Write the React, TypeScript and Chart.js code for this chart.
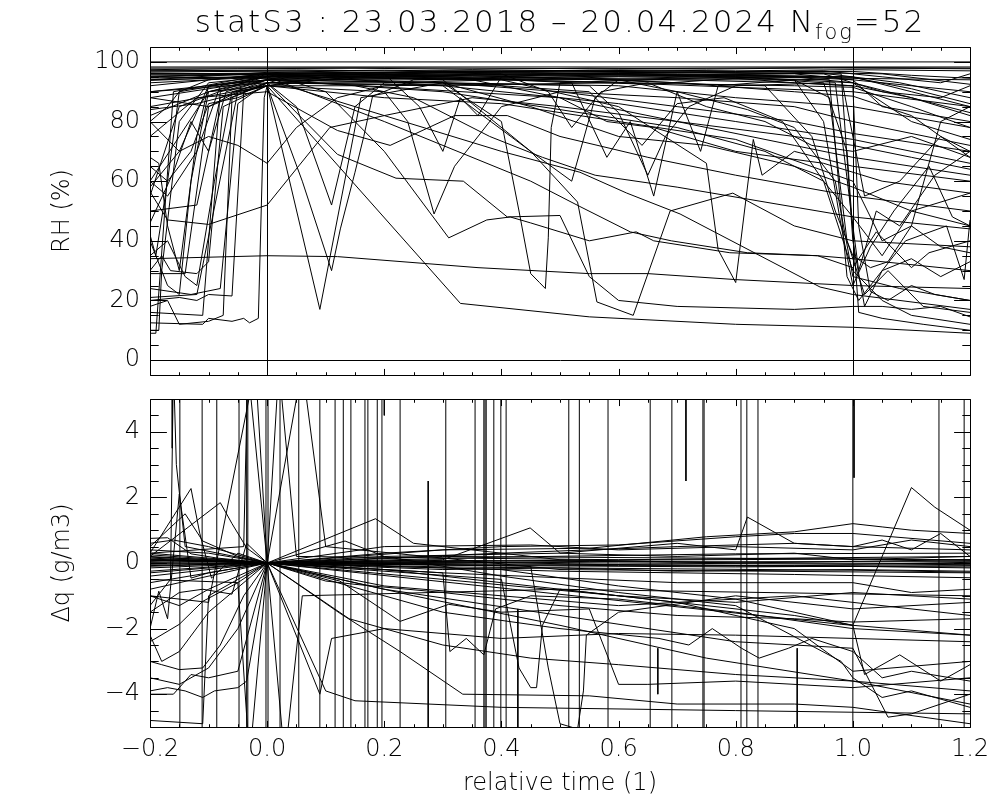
import React, { useEffect, useRef } from 'react';
import { Chart, registerables } from 'chart.js';

Chart.register(...registerables);

// ---------- axis / text settings ----------
const titleMain = 'statS3 : 23.03.2018 – 20.04.2024 N';
const titleSub = 'fog';
const titleEnd = '=52';
const xAxisTitle = 'relative time (1)';
const rhAxisTitle = 'RH (%)';
const dqAxisTitle = 'Δq (g/m3)';

const xRange = [-0.2, 1.2];
const rhRange = [-5, 105];
const dqRange = [-5, 5];
const xTickValues = [-0.2, 0.0, 0.2, 0.4, 0.6, 0.8, 1.0, 1.2];
const rhTickValues = [0, 20, 40, 60, 80, 100];
const dqTickValues = [-4, -2, 0, 2, 4];
const xMinorStep = 0.05;
const rhMinorStep = 5;
const dqMinorStep = 0.5;
const rhRefX = [0, 1];
const rhRefY = [0];

// ---------- RH (%) series: [relative time, RH] ----------
const rhSaturated = [
  [[-0.2, 100], [1.2, 100]],
  [[-0.2, 98.3], [1.2, 98.3]],
  [[-0.2, 97.4], [-0.05, 97.7], [0.15, 97.9], [0.35, 97.5], [0.55, 97.9], [0.75, 97.6], [0.95, 98.0], [1.2, 97.7]],
  [[-0.2, 96.6], [0, 96.9], [0.2, 97.2], [0.4, 96.8], [0.6, 97.3], [0.8, 97.0], [1.0, 97.4], [1.2, 97.0]],
  [[-0.2, 95.9], [0, 96.3], [0.25, 96.6], [0.5, 96.1], [0.75, 96.7], [1.0, 96.8], [1.1, 95.5], [1.2, 94.5]],
  [[-0.2, 95.3], [-0.05, 95.7], [0.15, 96.0], [0.45, 96.4], [0.7, 95.8], [0.95, 96.2], [1.08, 93], [1.2, 88]],
  [[-0.2, 94.6], [0.1, 95.3], [0.35, 95.0], [0.6, 95.6], [0.85, 95.2], [1.0, 94.8], [1.1, 91], [1.2, 86]],
  [[-0.2, 97.0], [0.05, 97.3], [0.3, 96.8], [0.55, 97.2], [0.8, 96.8], [1.05, 96.0], [1.2, 92.5]],
  [[-0.2, 97.9], [0.2, 98.0], [0.6, 97.7], [1.0, 98.1], [1.2, 97.9]],
  [[-0.2, 93.8], [-0.1, 94.5], [0, 95.4], [0.2, 95.8], [0.4, 95.2], [0.6, 94.0], [0.75, 92.5], [0.9, 92.0], [1.0, 91.5], [1.1, 85], [1.2, 78]],
  [[-0.2, 95.0], [0.1, 94.2], [0.3, 94.6], [0.5, 93.5], [0.65, 92.5], [0.8, 94.5], [0.9, 93.0], [1.0, 92.0], [1.1, 88], [1.2, 83]],
  [[-0.2, 96.2], [0.0, 96.0], [0.4, 97.0], [0.8, 96.5], [0.95, 97], [1.05, 95], [1.15, 93], [1.2, 96]],
  [[-0.2, 94.0], [0.0, 96.5], [0.3, 95.5], [0.6, 96.0], [0.9, 95.0], [1.0, 93.0], [1.1, 80], [1.2, 74]],
  [[-0.2, 96.0], [0.2, 95.2], [0.5, 94.5], [0.7, 93.0], [0.9, 90.0], [1.0, 88.5], [1.1, 82], [1.2, 68]],
];

const rhOnset = [
  [[-0.2, 12.5], [-0.11, 12], [-0.1, 14], [-0.06, 13], [-0.04, 14], [-0.03, 12.5], [-0.015, 14], [-0.005, 88], [0, 92], [0.1, 95], [0.4, 96], [0.8, 95.5], [1.0, 95], [1.1, 90], [1.2, 85]],
  [[-0.2, 16], [-0.11, 15], [-0.08, 90], [0, 94], [0.3, 96.5], [0.7, 96], [0.98, 95], [1.02, 55], [1.08, 60], [1.15, 75], [1.2, 70]],
  [[-0.2, 20], [-0.15, 21], [-0.12, 20], [-0.1, 22], [-0.06, 21.5], [-0.04, 90], [0, 93], [0.2, 95], [0.5, 94], [0.9, 95], [1.0, 94], [1.05, 85], [1.2, 80]],
  [[-0.2, 29], [-0.14, 29], [-0.1, 85], [-0.05, 90], [0, 92], [0.06, 60], [0.11, 30], [0.125, 44], [0.15, 63], [0.165, 75], [0.18, 88.5], [0.25, 94], [0.5, 95], [0.9, 96], [1.0, 94], [1.1, 92], [1.2, 90]],
  [[-0.2, 10], [-0.185, 10], [-0.18, 30], [-0.15, 80], [-0.1, 93], [0, 95], [0.3, 97], [0.6, 96.5], [0.98, 96], [1.0, 40], [1.02, 18], [1.05, 30], [1.1, 34], [1.15, 28], [1.2, 33]],
  [[-0.2, 40], [-0.17, 25], [-0.15, 22], [-0.13, 60], [-0.1, 90], [0, 94], [0.3, 93], [0.5, 90], [0.7, 85], [0.9, 80], [1.0, 76], [1.2, 70]],
  [[-0.2, 56.5], [-0.17, 47], [-0.1, 45.5], [0, 52], [0.107, 78], [0.2, 82], [0.35, 88], [0.5, 85], [0.7, 80], [0.9, 75], [1.0, 72], [1.1, 68], [1.2, 64]],
  [[-0.2, 35], [-0.17, 40], [-0.14, 28], [-0.12, 25], [-0.09, 60], [-0.06, 90], [0, 93], [0.05, 85], [0.11, 52], [0.15, 85], [0.2, 93], [0.6, 95], [0.96, 94], [0.99, 28], [1.01, 20], [1.03, 25], [1.09, 40], [1.16, 45], [1.19, 27], [1.2, 47]],
  [[-0.2, 68], [-0.185, 66], [-0.17, 45], [-0.15, 30], [-0.12, 75], [-0.1, 92], [0, 95], [0.4, 94], [0.85, 92], [0.93, 75], [0.97, 50], [1.0, 35], [1.03, 31], [1.06, 33], [1.1, 45], [1.15, 80], [1.2, 85]],
  [[-0.2, 80], [-0.17, 85], [-0.15, 90], [-0.1, 94], [0, 96], [0.5, 97], [0.95, 96], [1.05, 90], [1.15, 88], [1.2, 92]],
  [[-0.2, 18], [-0.17, 20], [-0.15, 12], [-0.1, 13], [-0.075, 15], [-0.06, 88], [0, 93], [0.3, 92], [0.45, 70], [0.52, 60], [0.56, 88], [0.6, 94], [0.9, 94], [0.95, 80], [0.98, 45], [1.0, 25], [1.03, 38], [1.07, 50], [1.13, 65], [1.17, 48], [1.2, 45]],
  [[-0.2, 30], [-0.18, 35], [-0.165, 30], [-0.12, 29], [-0.1, 33], [-0.075, 85], [0, 92], [0.2, 96], [0.52, 93], [0.58, 68], [0.62, 80], [0.66, 55], [0.7, 90], [0.74, 70], [0.77, 92], [0.9, 94], [1.0, 93], [1.1, 88], [1.2, 82]],
  [[-0.2, 65], [-0.17, 60], [-0.13, 70], [-0.1, 86], [-0.05, 88], [0, 92], [0.2, 90], [0.24, 80], [0.285, 49], [0.32, 65], [0.4, 85], [0.5, 90], [0.7, 88], [0.9, 85], [1.0, 80], [1.2, 72]],
  [[-0.2, 42], [-0.19, 35], [-0.17, 60], [-0.15, 90], [0, 95], [0.5, 96], [0.8, 95], [0.9, 94], [0.96, 88], [0.99, 40], [1.02, 22], [1.06, 30], [1.12, 18], [1.2, 16]],
  [[-0.2, 9], [-0.19, 9], [-0.16, 90], [0, 96], [0.3, 94], [0.45, 70], [0.53, 53], [0.563, 19.5], [0.625, 15], [0.688, 50], [0.795, 56], [0.9, 45], [1.0, 40], [1.2, 38]],
  [[-0.2, 46], [-0.16, 63], [-0.13, 80], [-0.1, 70], [-0.07, 90], [0, 94], [0.4, 94], [0.6, 85], [0.75, 66], [0.77, 37], [0.8, 26], [0.83, 74], [0.845, 62], [0.9, 70], [1.0, 65], [1.2, 60]],
  [[-0.2, 24], [-0.13, 22], [-0.08, 24], [-0.05, 86], [0, 93], [0.3, 93], [0.4, 80], [0.43, 50], [0.45, 29], [0.465, 26], [0.475, 24], [0.48, 41], [0.485, 78], [0.5, 93], [0.8, 95], [1.2, 94]],
];

const rhDecline = [
  [[-0.2, 34], [-0.1, 34.5], [0, 35], [0.12, 34.7], [0.36, 31], [0.55, 29], [0.65, 29], [0.8, 27], [1.0, 25], [1.2, 24]],
  [[-0.2, 60], [-0.15, 75], [-0.1, 90], [0, 92], [0.09, 17], [0.16, 88], [0.3, 93], [0.6, 92], [0.8, 88], [1.0, 85], [1.2, 78]],
  [[-0.2, 21], [-0.12, 22], [-0.05, 90], [0, 92], [0.33, 19], [0.55, 14.5], [0.8, 12], [1.0, 11], [1.2, 9]],
  [[-0.2, 88], [-0.1, 85], [0, 93], [0.12, 69], [0.22, 61], [0.335, 60], [0.41, 48], [0.5, 48.5], [0.55, 28], [0.6, 20], [0.7, 18], [0.9, 17], [1.0, 18], [1.05, 18], [1.1, 17], [1.15, 18], [1.2, 14.5]],
  [[-0.2, 75], [-0.12, 88], [0, 90], [0.12, 77], [0.21, 72], [0.32, 82], [0.41, 82], [0.5, 75], [0.65, 68], [0.8, 62], [1.0, 55], [1.2, 50]],
  [[-0.2, 55], [-0.15, 85], [0, 96], [0.1, 90], [0.2, 70], [0.31, 41], [0.375, 47], [0.415, 48], [0.45, 46], [0.55, 40], [0.63, 43], [0.66, 40], [0.79, 36], [0.94, 35], [1.0, 31], [1.04, 43], [1.1, 31], [1.13, 36], [1.2, 40]],
  [[-0.2, 88], [0, 94], [0.2, 82], [0.4, 70], [0.534, 63], [0.614, 56], [0.705, 49], [0.944, 24.5], [1.0, 22], [1.2, 17]],
  [[-0.2, 82], [-0.1, 90], [0, 95], [0.2, 80], [0.45, 60], [0.534, 51.5], [0.62, 43], [0.69, 40], [0.82, 36], [0.94, 35], [1.0, 34], [1.2, 30]],
  [[-0.2, 90], [0, 94], [0.5, 88], [0.7, 80], [0.9, 72], [1.0, 68], [1.2, 62]],
  [[-0.2, 92], [0, 96], [0.3, 92], [0.6, 86], [0.8, 80], [1.0, 74], [1.2, 66]],
  [[-0.2, 80], [-0.15, 70], [-0.1, 92], [0, 94], [0.55, 92], [0.6, 83], [0.65, 62], [0.68, 75], [0.72, 85], [0.8, 92], [0.97, 93], [1.0, 45], [1.01, 30], [1.04, 50], [1.08, 45], [1.14, 62], [1.2, 70]],
  [[-0.2, 60], [-0.17, 55], [-0.12, 70], [-0.08, 92], [0, 95], [0.2, 96], [0.26, 85], [0.3, 70], [0.33, 88], [0.36, 82], [0.4, 95], [0.7, 94], [0.9, 93], [1.0, 92], [1.01, 45], [1.03, 23], [1.06, 20], [1.1, 25], [1.14, 22], [1.2, 20]],
  [[-0.2, 85], [0, 92], [0.2, 88], [0.4, 86], [0.6, 80], [0.8, 74], [1.0, 60], [1.05, 40], [1.1, 45], [1.15, 38], [1.2, 36]],
  [[-0.2, 50], [-0.12, 52], [-0.08, 88], [0, 94], [0.3, 90], [0.5, 84], [0.7, 78], [0.85, 70], [0.95, 60], [1.0, 48], [1.05, 35], [1.1, 50], [1.2, 56]],
  [[-0.2, 58], [-0.15, 70], [-0.1, 75], [-0.05, 72], [0, 66], [0.05, 78], [0.12, 88], [0.2, 92], [0.6, 93], [1.0, 90], [1.2, 85]],
  [[-0.2, 93], [0, 95], [0.3, 93], [0.45, 85], [0.6, 75], [0.75, 72], [0.9, 65], [1.0, 58], [1.1, 50], [1.2, 45]],
  [[-0.2, 95], [0, 96], [0.35, 94], [0.5, 88], [0.58, 80], [0.66, 78], [0.8, 70], [0.95, 66], [1.05, 60], [1.2, 56]],
  [[-0.2, 90], [0, 93], [0.4, 92], [0.55, 90], [0.64, 72], [0.7, 86], [0.78, 88], [0.88, 80], [0.95, 60], [1.0, 30], [1.05, 20], [1.1, 15], [1.2, 12]],
  [[-0.2, 94], [0, 95], [0.6, 94], [0.7, 90], [0.82, 84], [0.9, 78], [0.97, 60], [1.0, 28], [1.08, 24], [1.2, 20]],
  [[-0.2, 97], [0, 97], [0.4, 96], [0.48, 90], [0.52, 78], [0.57, 90], [0.65, 93], [0.75, 85], [0.85, 80], [0.93, 72], [1.0, 70], [1.1, 75], [1.2, 68]],
  [[-0.2, 84], [-0.12, 86], [0, 92], [0.15, 92], [0.25, 88], [0.38, 75], [0.47, 68], [0.56, 62], [0.7, 58], [0.85, 53], [1.0, 48], [1.2, 44]],
  [[-0.2, 96], [0, 96], [0.8, 95], [0.95, 93], [0.99, 70], [1.01, 16], [1.05, 14], [1.12, 12], [1.2, 10]],
];

// ---------- Δq (g/m3) series: [relative time, Δq] ----------
const dqNearZero = [
  [[-0.2, 0.08], [-0.1, 0.06], [0, 0], [0.3, 0.04], [0.6, 0.0], [1.0, -0.04], [1.2, 0.02]],
  [[-0.2, 0.03], [-0.1, 0.05], [0, 0], [0.4, -0.08], [0.8, -0.12], [1.2, -0.08]],
  [[-0.2, -0.08], [0, 0], [0.3, -0.12], [0.7, -0.18], [1.0, -0.22], [1.2, -0.28]],
  [[-0.2, 0.15], [0, 0], [0.5, 0.08], [1.0, 0.12], [1.2, 0.08]],
  [[-0.2, -0.15], [-0.1, -0.08], [0, 0], [0.2, -0.04], [0.6, -0.08], [1.2, -0.12]],
  [[-0.2, 0.12], [0, 0], [0.3, 0.08], [0.7, 0.04], [1.2, 0.04]],
  [[-0.2, 0.0], [0, 0], [0.5, -0.04], [0.9, -0.08], [1.2, -0.04]],
  [[-0.2, 0.25], [0, 0], [0.4, 0.18], [0.8, 0.28], [1.2, 0.3]],
  [[-0.2, -0.25], [0, 0], [0.5, -0.25], [0.9, -0.35], [1.2, -0.45]],
  [[-0.2, 0.05], [-0.15, 0.1], [0, 0], [0.25, -0.02], [0.55, 0.05], [0.85, 0.0], [1.2, -0.02]],
  [[-0.2, -0.04], [0, 0], [0.35, 0.02], [0.65, -0.06], [1.0, -0.1], [1.2, -0.15]],
  [[-0.2, 0.18], [-0.1, 0.1], [0, 0], [0.3, -0.2], [0.5, -0.15], [0.7, -0.25], [1.0, -0.2], [1.2, -0.25]],
];

const dqPositive = [
  [[-0.2, 0.75], [-0.17, 0.77], [-0.13, 0.28], [-0.085, 0.15], [0, 0], [0.2, 0.3], [0.4, 0.5], [0.6, 0.55], [0.8, 0.8], [0.9, 0.9], [1.0, 0.9], [1.2, 0.6]],
  [[-0.2, 0.4], [-0.1, 0.3], [0, 0], [0.3, 0.4], [0.55, 0.45], [0.75, 0.8], [0.9, 0.95], [1.0, 1.2], [1.05, 1.1], [1.1, 1.0], [1.2, 0.9]],
  [[-0.2, 0.2], [0, 0], [0.4, 0.3], [0.7, 0.5], [0.9, 0.6], [1.0, 0.5], [1.05, 0.7], [1.1, 0.4], [1.15, 0.9], [1.2, 0.2]],
  [[-0.2, 0.6], [-0.16, 0.7], [-0.1, 0.5], [0, 0], [0.2, 0.5], [0.45, 0.55], [0.6, 0.4], [0.8, 0.5], [1.0, 0.4], [1.1, 0.7], [1.2, 0.5]],
  [[-0.2, -0.1], [0, 0], [0.3, 0.1], [0.449, 1.07], [0.5, 0.3], [0.7, 0.2], [0.9, 0.3], [1.0, 0.1], [1.2, 0.2]],
  [[-0.2, -0.3], [0, 0], [0.185, 1.35], [0.25, 0.6], [0.5, 0.1], [0.8, 0.0], [1.2, 0.1]],
  [[-0.2, 0.1], [0, 0], [0.133, 0.67], [0.2, 0.2], [0.5, 0.3], [0.7, 0.6], [0.8, 0.4], [0.82, 1.4], [0.9, 0.6], [1.0, 0.5], [1.2, 0.4]],
];

const dqNegative = [
  [[-0.2, -4.8], [-0.11, -4.9], [-0.1, -1], [-0.05, -0.5], [0, 0], [0.124, -1.53], [0.227, -2.7], [0.334, -4.0], [0.55, -4.05], [0.7, -4.3], [0.9, -4.3], [1.0, -4.4], [1.2, -4.9]],
  [[-0.2, -3.0], [-0.18, -3.1], [-0.15, -3.25], [-0.11, -3.2], [-0.08, -2.5], [-0.04, -1.0], [0, 0], [0.09, -4.0], [0.11, -2.3], [0.2, -2.0], [0.4, -2.3], [0.6, -2.15], [0.8, -2.2], [1.0, -2.3], [1.2, -2.4]],
  [[-0.2, -3.9], [-0.17, -3.8], [-0.14, -3.9], [-0.11, -4.1], [-0.09, -3.9], [-0.05, -3.8], [-0.035, -3.6], [0, 0], [0.14, -1.7], [0.3, -2.5], [0.45, -2.9], [0.6, -3.1], [0.8, -3.4], [1.0, -3.6], [1.2, -3.9]],
  [[-0.2, -2.4], [-0.15, -1.87], [-0.11, -1.17], [-0.05, -0.6], [0, 0], [0.1, -0.55], [0.15, -0.65], [0.3, -0.9], [0.5, -1.3], [0.7, -1.6], [0.9, -1.7], [1.0, -1.8], [1.2, -1.7]],
  [[-0.2, -1.5], [-0.15, -0.9], [-0.11, -0.8], [-0.06, -0.95], [-0.035, 0.6], [0, 0], [0.124, -0.55], [0.227, -1.78], [0.31, -1.26], [0.4, -1.5], [0.55, -1.4], [0.6, -3.7], [0.65, -3.7], [0.8, -3.6], [1.0, -3.8], [1.2, -3.5]],
  [[-0.2, -2], [-0.185, -0.86], [-0.17, -1.7], [-0.15, 2.1], [-0.13, -0.46], [-0.1, -0.3], [0, 0], [0.2, -0.2], [0.4, -0.6], [0.6, -1.0], [0.8, -1.2], [1.0, -0.9], [1.2, -1.1]],
  [[-0.2, 0.3], [-0.13, 2.27], [-0.115, 0.9], [-0.095, -0.46], [-0.05, 0.3], [0, 0], [0.3, -0.3], [0.312, -2.7], [0.34, -2.3], [0.37, -2.8], [0.39, -1.4], [0.45, -1.0], [0.6, -1.1], [0.8, -1.5], [1.0, -2.0], [1.2, -2.2]],
  [[-0.2, 0.5], [-0.14, 1.5], [-0.11, 0.67], [-0.05, 0.2], [0, 0], [0.4, -0.5], [0.43, -3.2], [0.45, -3.8], [0.46, -3.8], [0.47, -1.9], [0.5, -0.8], [0.7, -1.2], [0.9, -2.0], [1.0, -3.3], [1.2, -3.0]],
  [[-0.2, 0.2], [-0.08, 1.84], [-0.06, 1.2], [-0.035, 0.46], [0, 0], [0.45, -0.1], [0.48, -3.2], [0.5, -4.9], [0.53, -5.06], [0.54, -3.9], [0.545, -2.2], [0.6, -1.5], [0.8, -1.0], [1.0, -1.4], [1.2, -1.2]],
  [[-0.2, -0.6], [0, 0], [0.3, -1.5], [0.5, -2.0], [0.669, -2.3], [0.72, -2.5], [0.76, -2.0], [0.81, -2.6], [0.84, -2.9], [0.89, -2.6], [0.93, -2.3], [1.0, -2.7], [1.05, -3.5], [1.1, -3.3], [1.2, -3.6]],
  [[-0.2, -3.5], [-0.15, -3.7], [-0.1, -3.2], [-0.05, -2.0], [0, 0], [0.2, -0.8], [0.5, -1.6], [0.8, -2.4], [1.0, -2.6], [1.06, -4.7], [1.1, -4.6], [1.2, -4.0]],
  [[-0.2, -1.0], [-0.15, -1.3], [-0.1, -0.8], [0, 0], [0.2, 0.2], [0.4, -0.4], [0.6, -0.9], [0.8, -1.3], [0.98, -3.0], [1.0, -3.5], [1.05, -4.1], [1.1, -3.9], [1.2, -4.4]],
  [[-0.2, -0.4], [0, 0], [0.3, -0.5], [0.6, -1.0], [0.9, -1.6], [1.0, -1.9], [1.2, -2.2]],
  [[-0.2, 0.3], [0, 0], [0.3, -0.3], [0.7, -0.6], [1.0, -0.6], [1.1, -0.9], [1.2, -0.8]],
  [[-0.2, -2.2], [-0.18, -3.0], [-0.15, -2.7], [-0.1, -1.5], [0, 0], [0.2, -0.7], [0.6, -1.3], [0.9, -1.0], [1.0, -1.2], [1.2, -1.6]],
  [[-0.2, -4.0], [-0.16, -4.0], [-0.13, -3.4], [-0.1, -3.5], [-0.05, -3.3], [0, 0], [0.1, -3.9], [0.15, -4.2], [0.4, -4.4], [0.8, -4.5], [1.2, -4.6]],
  [[-0.2, -0.8], [0, 0], [0.25, -1.0], [0.5, -1.9], [0.75, -2.9], [1.0, -3.6], [1.2, -4.3]],
  [[-0.2, 0.1], [0, 0], [0.4, -0.2], [0.6, -0.7], [0.8, -1.1], [1.0, -1.9], [1.02, -3.4], [1.08, -2.8], [1.15, -3.6], [1.2, -3.1]],
  [[-0.2, 0.0], [0, 0], [0.98, -1.87], [1.0, -1.9], [1.1, 2.3], [1.14, 1.7], [1.2, 1.0]],
];

const dqSteep = [
  [[-0.2, 0.3], [-0.04, 0.5], [-0.033, 6], [0, 0], [0.06, 6], [0.1, 0.5], [0.5, -0.2], [1.2, -0.3]],
  [[-0.2, -0.5], [-0.05, -0.6], [-0.03, -6], [0, 0], [0.02, 6], [0.05, 0.2], [0.6, 0.1], [1.2, 0.2]],
  [[-0.2, -1.0], [-0.1, -1.2], [-0.02, 6], [0, 0], [0.03, -6], [0.06, -1.0], [0.5, -0.8], [1.2, -1.0]],
  [[-0.2, -1.3], [-0.165, -0.5], [-0.16, 6], [-0.155, 3], [-0.14, 0.5], [0, 0], [0.3, 0.2], [1.2, 0.1]],
];

// full-height spikes (relative time) and partial spikes [time, from, to]
const dqSpikeX = [
  -0.149, -0.111, -0.086, -0.048, -0.035, -0.033, -0.002, 0.0015, 0.022, 0.054, 0.090, 0.116, 0.130,
  0.143, 0.167, 0.172, 0.188, 0.196, 0.227, 0.305, 0.355, 0.370, 0.372, 0.374, 0.387, 0.399, 0.408,
  0.515, 0.533, 0.582, 0.654, 0.691, 0.744, 0.746, 0.809, 0.819, 0.838, 1.0, 1.147, 1.190,
];
const dqPartialSpikes = [
  [-0.162, 5.5, 3.5],
  [0.2, 5.5, 4.5],
  [0.275, 2.5, -5.5],
  [0.428, -1.4, -5.5],
  [0.667, -2.6, -4.0],
  [0.715, 5.5, 2.5],
  [0.905, -2.6, -5.5],
  [1.002, 5.5, 2.6],
];

// ---------- helpers ----------
const FONT = '"DejaVu Sans", "Liberation Sans", sans-serif';

const toDataset = (pts: number[][]) => ({
  data: pts.map(([x, y]) => ({ x, y })),
  borderColor: '#000',
  borderWidth: 1,
  pointRadius: 0,
  fill: false,
  tension: 0,
});

const fmtX = (v: number) => (v < 0 ? '−' : '') + Math.abs(v).toFixed(1);
const fmtY = (v: number) => (v < 0 ? '−' : '') + String(Math.abs(v));

const snap = (v: number) => Math.round(v) + 0.5;

function framePlugin(yMinorStep: number, yMajor: number[], refX: number[], refY: number[]) {
  return {
    id: 'idlFrame',
    afterDatasetsDraw(chart: any) {
      const { ctx, chartArea: a } = chart;
      const xs = chart.scales.x;
      const ys = chart.scales.y;
      const L = snap(a.left), R = snap(a.right), T = snap(a.top), B = snap(a.bottom);
      const h = a.bottom - a.top, w = a.right - a.left;
      const xMaj = 0.02 * h, yMaj = 0.02 * w;
      ctx.save();
      ctx.strokeStyle = '#000';
      ctx.lineWidth = 1;
      ctx.beginPath();
      ctx.rect(L, T, R - L, B - T);
      refX.forEach((v) => { const p = snap(xs.getPixelForValue(v)); ctx.moveTo(p, T); ctx.lineTo(p, B); });
      refY.forEach((v) => { const p = snap(ys.getPixelForValue(v)); ctx.moveTo(L, p); ctx.lineTo(R, p); });
      const nx = Math.round((xRange[1] - xRange[0]) / xMinorStep);
      for (let i = 0; i <= nx; i++) {
        const v = xRange[0] + i * xMinorStep;
        const major = xTickValues.some((t) => Math.abs(t - v) < 1e-6);
        const len = major ? xMaj : xMaj / 2;
        const p = snap(xs.getPixelForValue(v));
        ctx.moveTo(p, B); ctx.lineTo(p, B - len);
        ctx.moveTo(p, T); ctx.lineTo(p, T + len);
      }
      const y0 = ys.min, y1 = ys.max;
      const start = Math.ceil(y0 / yMinorStep - 1e-9) * yMinorStep;
      for (let v = start; v <= y1 + 1e-9; v += yMinorStep) {
        const major = yMajor.some((t) => Math.abs(t - v) < 1e-6);
        const len = major ? yMaj : yMaj / 2;
        const p = snap(ys.getPixelForValue(v));
        ctx.moveTo(L, p); ctx.lineTo(L + len, p);
        ctx.moveTo(R, p); ctx.lineTo(R - len, p);
      }
      ctx.stroke();
      ctx.restore();
    },
  };
}

const titlePlugin = {
  id: 'idlTitle',
  afterDraw(chart: any) {
    const { ctx, chartArea: a } = chart;
    const mainFont = `200 31px ${FONT}`;
    const subFont = `200 21px ${FONT}`;
    ctx.save();
    ctx.fillStyle = '#000';
    ctx.textBaseline = 'alphabetic';
    (ctx as any).letterSpacing = '2px';
    ctx.font = mainFont;
    const w1 = ctx.measureText(titleMain).width;
    const w3 = ctx.measureText(titleEnd).width;
    ctx.font = subFont;
    const w2 = ctx.measureText(titleSub).width;
    const total = w1 + w2 + w3;
    const cx = (a.left + a.right) / 2;
    let x = cx - total / 2;
    const base = 32;
    ctx.font = mainFont;
    ctx.fillText(titleMain, x, base);
    x += w1;
    ctx.font = subFont;
    ctx.fillText(titleSub, x, base + 7);
    x += w2;
    ctx.font = mainFont;
    ctx.fillText(titleEnd, x, base);
    ctx.restore();
  },
};

const tickFont = { family: FONT, size: 24, weight: '200' as any };

function yScale(range: number[], ticks: number[], title: string) {
  return {
    type: 'linear',
    min: range[0],
    max: range[1],
    afterFit: (s: any) => { s.width = 150; s.paddingTop = 0; s.paddingBottom = 0; },
    afterBuildTicks: (s: any) => { s.ticks = ticks.map((v) => ({ value: v })); },
    grid: { display: false, drawTicks: false },
    border: { display: false },
    ticks: { color: '#000', font: tickFont, padding: 10, callback: (v: any) => fmtY(Number(v)), autoSkip: false },
    title: { display: true, text: title, color: '#000', font: tickFont, padding: { top: 48, bottom: 0 } },
  };
}

export default function App() {
  const topRef = useRef<HTMLCanvasElement>(null);
  const botRef = useRef<HTMLCanvasElement>(null);

  useEffect(() => {
    const rhSets = [...rhSaturated, ...rhOnset, ...rhDecline].map(toDataset);
    const spikeSets = [
      ...dqSpikeX.map((x) => [[x, -6], [x, 6]]),
      ...dqPartialSpikes.map(([x, a, b]) => [[x, a], [x, b]]),
    ].map(toDataset);
    const dqSets = [...dqNearZero, ...dqPositive, ...dqNegative, ...dqSteep].map(toDataset);

    const common = {
      responsive: false,
      maintainAspectRatio: false,
      animation: false,
      events: [],
      plugins: { legend: { display: false }, tooltip: { enabled: false }, title: { display: false } },
    };

    const top = new Chart(topRef.current as HTMLCanvasElement, {
      type: 'line',
      data: { datasets: rhSets as any },
      options: {
        ...common,
        layout: { padding: { top: 47, right: 30, bottom: 15, left: 0 } },
        scales: {
          x: { type: 'linear', min: xRange[0], max: xRange[1], display: false },
          y: yScale(rhRange, rhTickValues, rhAxisTitle),
        },
      } as any,
      plugins: [framePlugin(rhMinorStep, rhTickValues, rhRefX, rhRefY), titlePlugin],
    });

    const bot = new Chart(botRef.current as HTMLCanvasElement, {
      type: 'line',
      data: { datasets: [...spikeSets, ...dqSets] as any },
      options: {
        ...common,
        layout: { padding: { top: 9, right: 30, bottom: 0, left: 0 } },
        scales: {
          x: {
            type: 'linear',
            min: xRange[0],
            max: xRange[1],
            afterFit: (s: any) => { s.height = 73; s.paddingLeft = 0; s.paddingRight = 0; },
            afterBuildTicks: (s: any) => { s.ticks = xTickValues.map((v) => ({ value: v })); },
            grid: { display: false, drawTicks: false },
            border: { display: false },
            ticks: { color: '#000', font: tickFont, padding: 8, maxRotation: 0, autoSkip: false, callback: (v: any) => fmtX(Number(v)) },
            title: { display: true, text: xAxisTitle, color: '#000', font: tickFont, padding: { top: 0, bottom: 2 } },
          },
          y: yScale(dqRange, dqTickValues, dqAxisTitle),
        },
      } as any,
      plugins: [framePlugin(dqMinorStep, dqTickValues, [], [])],
    });

    return () => { top.destroy(); bot.destroy(); };
  }, []);

  return (
    <div style={{ position: 'absolute', left: 0, top: 0, width: 1000, height: 800, background: '#fff' }}>
      <canvas ref={topRef} width={1000} height={390} style={{ position: 'absolute', left: 0, top: 0, display: 'block' }} />
      <canvas ref={botRef} width={1000} height={410} style={{ position: 'absolute', left: 0, top: 390, display: 'block' }} />
    </div>
  );
}
